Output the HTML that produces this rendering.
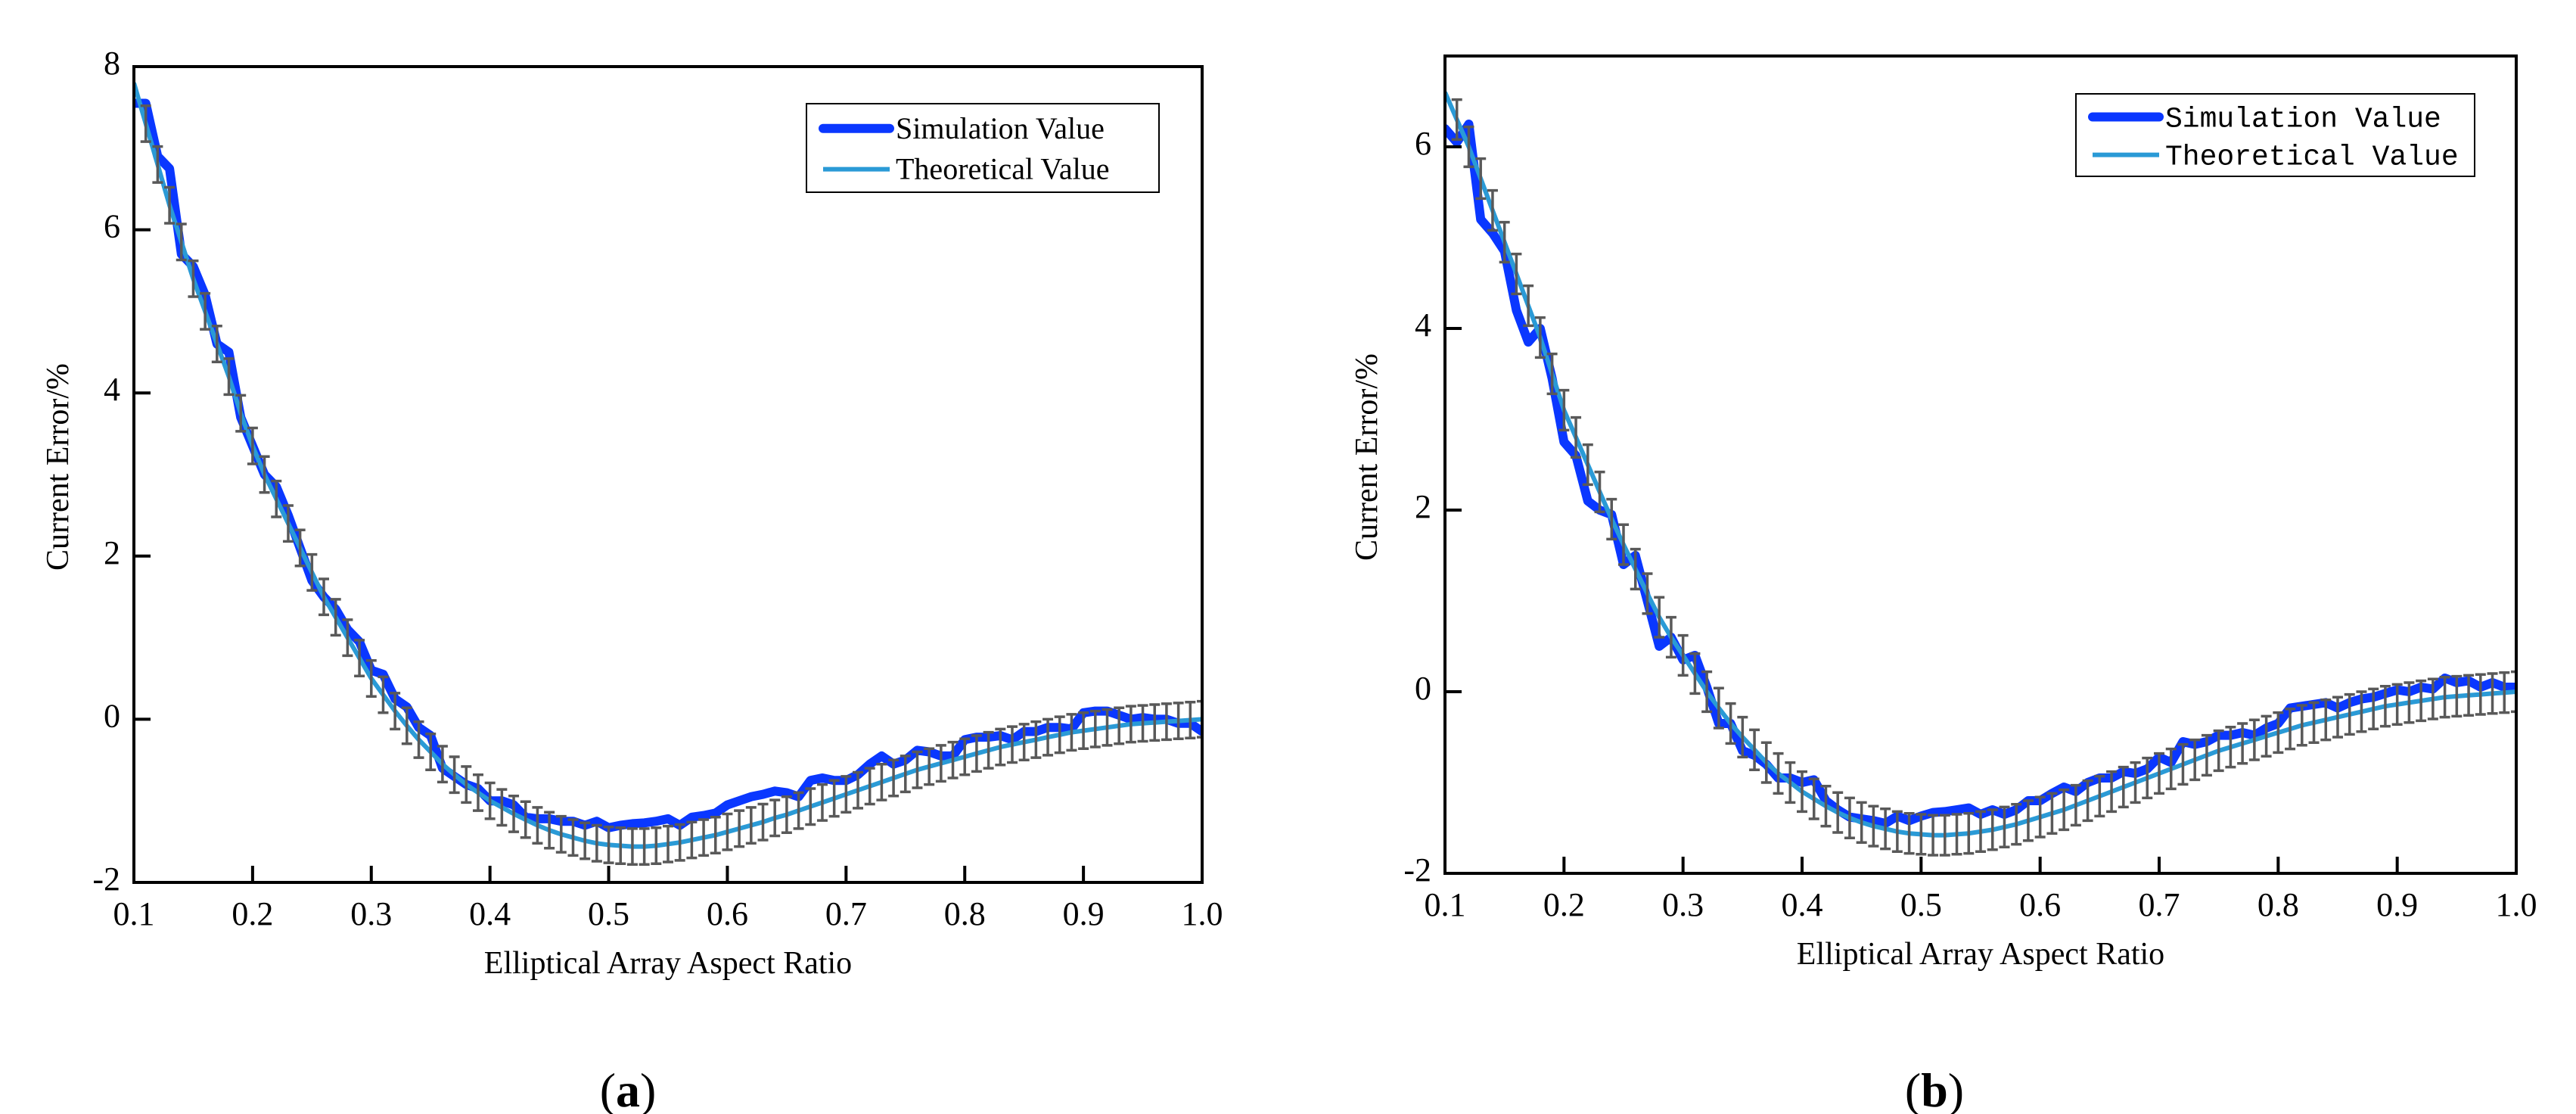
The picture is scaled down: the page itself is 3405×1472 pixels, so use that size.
<!DOCTYPE html>
<html><head><meta charset="utf-8"><style>
html,body{margin:0;padding:0;background:#fff;}
svg{display:block;}
text{font-family:"Liberation Serif",serif;fill:#000;}
</style></head><body>
<svg id="fig" width="3405" height="1472" viewBox="0 0 3405 1472" xmlns="http://www.w3.org/2000/svg"></svg>
<script>
const xValues = [0.10,0.11,0.12,0.13,0.14,0.15,0.16,0.17,0.18,0.19,0.20,0.21,0.22,0.23,0.24,0.25,0.26,0.27,0.28,0.29,0.30,0.31,0.32,0.33,0.34,0.35,0.36,0.37,0.38,0.39,0.40,0.41,0.42,0.43,0.44,0.45,0.46,0.47,0.48,0.49,0.50,0.51,0.52,0.53,0.54,0.55,0.56,0.57,0.58,0.59,0.60,0.61,0.62,0.63,0.64,0.65,0.66,0.67,0.68,0.69,0.70,0.71,0.72,0.73,0.74,0.75,0.76,0.77,0.78,0.79,0.80,0.81,0.82,0.83,0.84,0.85,0.86,0.87,0.88,0.89,0.90,0.91,0.92,0.93,0.94,0.95,0.96,0.97,0.98,0.99,1.00];
const theoA = [7.8,7.3,6.8,6.3,5.85,5.4,5.0,4.6,4.2,3.75,3.35,3.0,2.7,2.4,2.1,1.8,1.5,1.25,1.0,0.75,0.5,0.3,0.1,-0.08,-0.25,-0.4,-0.55,-0.68,-0.8,-0.9,-1.0,-1.08,-1.16,-1.23,-1.3,-1.36,-1.41,-1.45,-1.49,-1.52,-1.54,-1.55,-1.56,-1.56,-1.55,-1.53,-1.51,-1.48,-1.45,-1.42,-1.38,-1.34,-1.3,-1.26,-1.21,-1.17,-1.12,-1.07,-1.02,-0.97,-0.92,-0.87,-0.82,-0.77,-0.72,-0.67,-0.62,-0.58,-0.54,-0.5,-0.46,-0.42,-0.38,-0.34,-0.31,-0.28,-0.25,-0.22,-0.19,-0.16,-0.14,-0.12,-0.1,-0.08,-0.06,-0.05,-0.04,-0.03,-0.02,-0.01,0.0];
const simA = [7.55,7.55,6.9,6.75,5.7,5.55,5.2,4.6,4.5,3.7,3.35,3.0,2.85,2.5,2.1,1.7,1.5,1.35,1.1,0.95,0.6,0.55,0.25,0.15,-0.1,-0.2,-0.6,-0.7,-0.8,-0.85,-1.0,-1.0,-1.05,-1.2,-1.22,-1.22,-1.25,-1.25,-1.3,-1.25,-1.33,-1.3,-1.28,-1.27,-1.25,-1.22,-1.3,-1.2,-1.18,-1.15,-1.05,-1.0,-0.95,-0.92,-0.88,-0.9,-0.95,-0.75,-0.72,-0.75,-0.75,-0.68,-0.55,-0.45,-0.55,-0.5,-0.38,-0.4,-0.45,-0.45,-0.25,-0.22,-0.22,-0.2,-0.25,-0.15,-0.15,-0.1,-0.1,-0.12,0.08,0.1,0.1,0.05,0.0,0.02,0.0,0.0,-0.05,-0.05,-0.15];
const theoB = [6.6,6.3,6.0,5.65,5.3,4.95,4.6,4.25,3.9,3.5,3.1,2.8,2.5,2.2,1.9,1.62,1.35,1.08,0.82,0.6,0.4,0.2,0.0,-0.18,-0.35,-0.5,-0.64,-0.78,-0.9,-1.0,-1.1,-1.18,-1.26,-1.33,-1.39,-1.44,-1.48,-1.51,-1.54,-1.56,-1.57,-1.58,-1.58,-1.57,-1.56,-1.54,-1.52,-1.49,-1.46,-1.42,-1.38,-1.34,-1.3,-1.25,-1.2,-1.15,-1.1,-1.05,-1.0,-0.95,-0.9,-0.85,-0.8,-0.75,-0.7,-0.65,-0.61,-0.57,-0.53,-0.49,-0.45,-0.41,-0.37,-0.34,-0.31,-0.28,-0.25,-0.22,-0.19,-0.16,-0.14,-0.12,-0.1,-0.08,-0.06,-0.05,-0.04,-0.03,-0.02,-0.01,0.0];
const simB = [6.2,6.05,6.25,5.2,5.05,4.85,4.2,3.85,4.0,3.45,2.75,2.6,2.1,2.0,1.95,1.4,1.5,1.0,0.5,0.6,0.35,0.4,0.05,-0.35,-0.35,-0.65,-0.7,-0.8,-0.95,-0.95,-1.0,-0.97,-1.2,-1.3,-1.38,-1.4,-1.42,-1.45,-1.37,-1.42,-1.37,-1.33,-1.32,-1.3,-1.28,-1.35,-1.3,-1.35,-1.3,-1.2,-1.2,-1.12,-1.05,-1.1,-1.0,-0.95,-0.95,-0.88,-0.9,-0.85,-0.72,-0.78,-0.55,-0.58,-0.55,-0.48,-0.48,-0.45,-0.48,-0.4,-0.35,-0.18,-0.16,-0.14,-0.12,-0.18,-0.12,-0.08,-0.06,-0.02,0.02,0.0,0.05,0.03,0.15,0.1,0.12,0.05,0.1,0.05,0.05];
const errA = 0.22;
const errB = 0.22;
const xTickLabels = ["0.1","0.2","0.3","0.4","0.5","0.6","0.7","0.8","0.9","1.0"];
const yTicksA = [-2,0,2,4,6,8];
const yTicksB = [-2,0,2,4,6];

const NS = "http://www.w3.org/2000/svg";
const fig = document.getElementById('fig');
function mk(tag, attrs, parent){
  const e = document.createElementNS(NS, tag);
  for (const k in attrs) e.setAttribute(k, attrs[k]);
  (parent||fig).appendChild(e);
  return e;
}

function drawChart(cfg){
  const g = mk('g', {});
  
  
  const L=cfg.L, R=cfg.R, T=cfg.T, B=cfg.B;
  const sx = v => L + (v - 0.1) / 0.9 * (R - L);
  const sy = v => B - (v - cfg.ymin) / (cfg.ymax - cfg.ymin) * (B - T);
  const clip = mk('clipPath', {id: cfg.name + '-clip'}, g);
  mk('rect', {x:L, y:T, width:R-L, height:B-T}, clip);
  const plot = mk('g', {'clip-path': 'url(#' + cfg.name + '-clip)'}, g);
  
  

  let d = cfg.sim.map((v,i)=>(i?'L':'M') + sx(xValues[i]).toFixed(1) + ' ' + sy(v).toFixed(1)).join(' ');
  const sp = mk('path', {d:d, fill:'none', stroke:'#0a37ff', 'stroke-width':12, 'stroke-linejoin':'round', 'stroke-linecap':'round'}, plot);
  
  
  d = cfg.theo.map((v,i)=>(i?'L':'M') + sx(xValues[i]).toFixed(1) + ' ' + sy(v).toFixed(1)).join(' ');
  const tp = mk('path', {d:d, fill:'none', stroke:'#2a9ad6', 'stroke-width':6, 'stroke-linejoin':'round'}, plot);
  
  
  const eg = mk('g', {stroke:'#595959', 'stroke-width':3.5, fill:'none'}, plot);
  
  
  cfg.theo.forEach((v,i)=>{
    if (i===0) return;
    const x = sx(xValues[i]), y1 = sy(v + cfg.err), y2 = sy(v - cfg.err);
    const eb = mk('path', {d:`M${x-7} ${y1}H${x+7}M${x} ${y1}V${y2}M${x-7} ${y2}H${x+7}`}, eg);
    
    
  });

  const fr = mk('rect', {x:L, y:T, width:R-L, height:B-T, fill:'none', stroke:'#000', 'stroke-width':4}, g);
  
  
  xTickLabels.forEach(lbl=>{
    const v = parseFloat(lbl), x = sx(v);
    const tk = mk('line', {x1:x, x2:x, y1:B, y2:B-22, stroke:'#000', 'stroke-width':4}, g);
    
    
    const t = mk('text', {x:x, y:B+56, 'font-size':44, 'text-anchor':'middle'}, g);
    t.textContent = lbl;
    
    
  });
  cfg.yTicks.forEach(v=>{
    const y = sy(v);
    const tk = mk('line', {x1:L, x2:L+22, y1:y, y2:y, stroke:'#000', 'stroke-width':4}, g);
    
    
    const t = mk('text', {x:L-18, y:y+10, 'font-size':44, 'text-anchor':'end'}, g);
    t.textContent = String(v);
    
    
  });
  const xt = mk('text', {x:(L+R)/2, y:B+120, 'font-size':42, 'text-anchor':'middle'}, g);
  xt.textContent = 'Elliptical Array Aspect Ratio';
  
  
  const yc = (T+B)/2 - 10;
  const yt = mk('text', {x:cfg.ytx, y:yc, 'font-size':42, 'text-anchor':'middle', transform:`rotate(-90 ${cfg.ytx} ${yc})`}, g);
  yt.textContent = 'Current Error/%';
  
  

  const lg = mk('g', {}, g);
  
  
  const lb = cfg.leg;
  mk('rect', {x:lb.x, y:lb.y, width:lb.w, height:lb.h, fill:'#fff', stroke:'#000', 'stroke-width':2}, lg);
  const r1 = lb.y + lb.h*0.28, r2 = lb.y + lb.h*0.74;
  const e1 = mk('line', {x1:lb.x+22, x2:lb.x+lb.lw, y1:r1, y2:r1, stroke:'#0a37ff', 'stroke-width':12, 'stroke-linecap':'round'}, lg);
  
  
  const e2 = mk('line', {x1:lb.x+22, x2:lb.x+lb.lw, y1:r2, y2:r2, stroke:'#2a9ad6', 'stroke-width':6}, lg);
  
  
  const s1 = mk('text', {x:lb.x+lb.lw+8, y:r1+13, 'font-size':lb.fs, style:'font-family:'+lb.ff}, lg);
  s1.textContent = 'Simulation Value';
  
  
  const s2 = mk('text', {x:lb.x+lb.lw+8, y:r2+13, 'font-size':lb.fs, style:'font-family:'+lb.ff}, lg);
  s2.textContent = 'Theoretical Value';
  
  

  const cap = mk('text', {x:cfg.capX, y:1462, 'font-size':64, 'text-anchor':'middle'}, g);
  cap.innerHTML = '(<tspan font-weight="bold">' + cfg.cap + '</tspan>)';
  
  
}

drawChart({name:'chart-a', L:177, R:1589, T:88, B:1166, ymin:-2, ymax:8, sim:simA, theo:theoA, err:errA, yTicks:yTicksA, ytx:90,
  leg:{x:1066, y:137, w:466, h:117, lw:110, fs:40, ff:'"Liberation Serif", serif'}, cap:'a', capX:830});
drawChart({name:'chart-b', L:1910, R:3326, T:74, B:1154, ymin:-2, ymax:7, sim:simB, theo:theoB, err:errB, yTicks:yTicksB, ytx:1820,
  leg:{x:2744, y:124, w:527, h:109, lw:110, fs:38, ff:'"Liberation Mono", monospace'}, cap:'b', capX:2557});
</script>
</body></html>
